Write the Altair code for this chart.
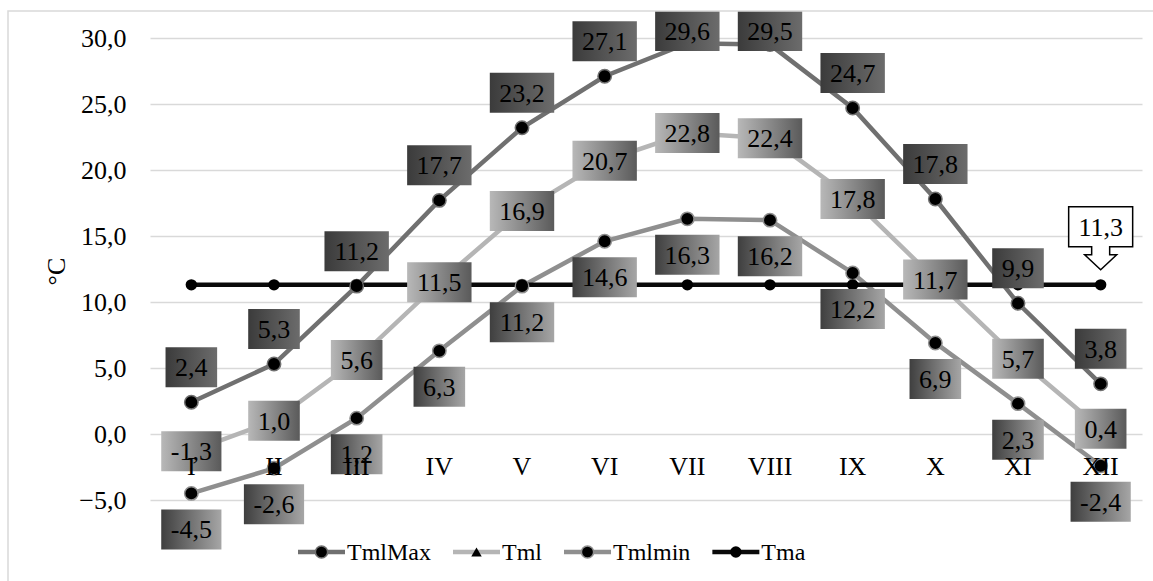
import altair as alt
import pandas as pd

# ---- data -------------------------------------------------------------
months = ["I", "II", "III", "IV", "V", "VI", "VII", "VIII", "IX", "X", "XI", "XII"]
series_names = ["TmlMax", "Tml", "Tmlmin", "Tma"]
tml_max = [2.4, 5.3, 11.2, 17.7, 23.2, 27.1, 29.6, 29.5, 24.7, 17.8, 9.9, 3.8]
tml = [-1.3, 1.0, 5.6, 11.5, 16.9, 20.7, 22.8, 22.4, 17.8, 11.7, 5.7, 0.4]
tml_min = [-4.5, -2.6, 1.2, 6.3, 11.2, 14.6, 16.3, 16.2, 12.2, 6.9, 2.3, -2.4]
tma = [11.3, 11.3, 11.3, 11.3, 11.3, 11.3, 11.3, 11.3, 11.3, 11.3, 11.3, 11.3]
y_ticks = [-5, 0, 5, 10, 15, 20, 25, 30]

# ---- layout -----------------------------------------------------------
TOTAL_W, TOTAL_H = 1153, 581
PL, PT = 150, 38
PW, PH = 992, 462
Y_MIN, Y_MAX = -5, 30
PX_PER_UNIT = PH / (Y_MAX - Y_MIN)
FONT = "Liberation Serif"
LABEL_SIZE = 26
BOX_H = 40

line_colors = ["#707070", "#b5b5b5", "#8f8f8f", "#0a0a0a"]
color_scale = alt.Scale(domain=series_names, range=line_colors)

# Times-like advance widths (em) used to size the label boxes
CHAR_W = {",": 0.25, "-": 0.333, "T": 0.611, "m": 0.778, "l": 0.278,
          "M": 0.889, "a": 0.444, "x": 0.5, "i": 0.278, "n": 0.5}


def text_width(s, size):
    return sum(CHAR_W.get(c, 0.5) for c in s) * size


def fmt(v):
    return f"{v:.1f}".replace(".", ",")


def box_path(label):
    half = (text_width(label, LABEL_SIZE) + 19) / 2
    return f"M{-half:.1f},{-BOX_H / 2}H{half:.1f}V{BOX_H / 2}H{-half:.1f}Z"


values_by_series = dict(zip(series_names, [tml_max, tml, tml_min, tma]))
rows = []
for s in series_names:
    for m, v in zip(months, values_by_series[s]):
        rows.append({"month": m, "series": s, "value": v})
df = pd.DataFrame(rows)

# label anchor (data units): above, centred on, or below the point
top_limit = Y_MAX + 7 / PX_PER_UNIT
lab = df[df["series"] != "Tma"].copy()
lab["text"] = lab["value"].map(fmt)
lab["box"] = lab["text"].map(box_path)


def anchor(r):
    if r["series"] == "TmlMax":
        return min(r["value"] + 35 / PX_PER_UNIT, top_limit)
    if r["series"] == "Tmlmin":
        return r["value"] - 36 / PX_PER_UNIT
    return r["value"]


lab["ly"] = lab.apply(anchor, axis=1)

callout = df[(df["series"] == "Tma") & (df["month"] == months[-1])].copy()
callout["text"] = callout["value"].map(fmt)

X = alt.X("month:N", sort=months, scale=alt.Scale(type="point", padding=0.5), axis=None)
Y_SCALE = alt.Scale(domain=[Y_MIN, Y_MAX], nice=False, zero=False)
Y_AXIS = alt.Axis(
    values=y_ticks,
    labelExpr="replace(format(datum.value, '.1f'), '.', ',')",
    labelFont=FONT, labelFontSize=26, labelColor="#000000", labelPadding=24,
    ticks=False, domain=False, grid=True, gridColor="#d9d9d9", gridWidth=1.5,
    title="°C", titleFont=FONT, titleFontSize=26, titleFontWeight="normal",
    titleColor="#000000", titleAngle=270, titleAlign="center", titleBaseline="middle",
    titleX=-94, titleY=233,
)


def y_enc(field):
    return alt.Y(field, scale=Y_SCALE, axis=Y_AXIS)


base = alt.Chart(df)

lines = base.mark_line(strokeWidth=4.5).encode(
    x=X, y=y_enc("value:Q"),
    color=alt.Color("series:N", scale=color_scale, legend=None),
    detail="series:N",
)

ring_points = base.transform_filter(
    alt.FieldOneOfPredicate(field="series", oneOf=["TmlMax", "Tmlmin"])
).mark_point(filled=True, fill="#000000", strokeWidth=1.5, size=180, opacity=1).encode(
    x=X, y=y_enc("value:Q"),
    stroke=alt.Stroke("series:N", scale=color_scale, legend=None),
)

tri_points = base.transform_filter(alt.datum.series == "Tml").mark_point(
    filled=True, shape="triangle-up", color="#000000", size=100, opacity=1
).encode(x=X, y=y_enc("value:Q"))

tma_points = base.transform_filter(alt.datum.series == "Tma").mark_point(
    filled=True, color="#000000", size=130, opacity=1
).encode(x=X, y=y_enc("value:Q"))


def gradient(c0, c1):
    return alt.LinearGradient(
        gradient="linear",
        stops=[alt.GradientStop(color=c0, offset=0), alt.GradientStop(color=c1, offset=1)],
        x1=0, x2=1, y1=0, y2=0,
    )


box_fills = {
    "TmlMax": gradient("#3b3b3b", "#6c6c6c"),
    "Tml": gradient("#b8b8b8", "#5a5a5a"),
    "Tmlmin": gradient("#3f3f3f", "#a6a6a6"),
}

label_layers = []
for s in ["TmlMax", "Tml", "Tmlmin"]:
    sub = alt.Chart(lab).transform_filter(alt.datum.series == s)
    label_layers.append(
        sub.mark_point(filled=True, fill=box_fills[s], strokeWidth=0, size=4, opacity=1).encode(
            x=X, y=y_enc("ly:Q"), shape=alt.Shape("box:N", scale=None, legend=None)
        )
    )
    label_layers.append(
        sub.mark_text(font=FONT, fontSize=LABEL_SIZE, color="#000000", baseline="middle", dy=1).encode(
            x=X, y=y_enc("ly:Q"), text="text:N"
        )
    )

# callout pointing down at the last Tma point
callout_shape = "M-32,-78H32V-38H9V-30H16L0,-15L-16,-30H-9V-38H-32Z"
callout_box = alt.Chart(callout).mark_point(
    shape=callout_shape, size=4, filled=True, fill="#ffffff", stroke="#000000",
    strokeWidth=1.5, opacity=1
).encode(x=X, y=y_enc("value:Q"))
callout_text = alt.Chart(callout).mark_text(
    font=FONT, fontSize=LABEL_SIZE, color="#000000", baseline="middle", dy=-57
).encode(x=X, y=y_enc("value:Q"), text="text:N")

# category labels along the zero line
month_df = pd.DataFrame({"month": months})
month_labels = alt.Chart(month_df).mark_text(
    font=FONT, fontSize=26, color="#000000", baseline="alphabetic", dy=41
).encode(x=X, y=alt.datum(0), text="month:N")

main = alt.layer(
    lines, ring_points, tri_points, tma_points, *label_layers, callout_box, callout_text, month_labels
)

# ---- legend row -------------------------------------------------------
LEG_FONT = 24
SYM_W, TXT_GAP, ITEM_GAP = 47, 2, 22
leg_rows = []
cursor = 298 - PL
for s in series_names:
    leg_rows.append({"series": s, "sx0": cursor, "sx1": cursor + SYM_W,
                     "sm": cursor + SYM_W / 2, "tx": cursor + SYM_W + TXT_GAP})
    cursor += SYM_W + TXT_GAP + text_width(s, LEG_FONT) + ITEM_GAP
leg = pd.DataFrame(leg_rows)
LEG_Y = 552 - PT

leg_base = alt.Chart(leg)
leg_lines = leg_base.mark_rule(strokeWidth=4.5).encode(
    x=alt.X("sx0:Q", scale=None, axis=None), x2="sx1:Q", y=alt.value(LEG_Y),
    color=alt.Color("series:N", scale=color_scale, legend=None),
)
leg_rings = leg_base.transform_filter(
    alt.FieldOneOfPredicate(field="series", oneOf=["TmlMax", "Tmlmin"])
).mark_point(filled=True, fill="#000000", strokeWidth=1.5, size=150, opacity=1).encode(
    x=alt.X("sm:Q", scale=None, axis=None), y=alt.value(LEG_Y),
    stroke=alt.Stroke("series:N", scale=color_scale, legend=None),
)
leg_tri = leg_base.transform_filter(alt.datum.series == "Tml").mark_point(
    filled=True, shape="triangle-up", color="#000000", size=110, opacity=1
).encode(x=alt.X("sm:Q", scale=None, axis=None), y=alt.value(LEG_Y))
leg_dot = leg_base.transform_filter(alt.datum.series == "Tma").mark_point(
    filled=True, color="#000000", size=130, opacity=1
).encode(x=alt.X("sm:Q", scale=None, axis=None), y=alt.value(LEG_Y))
leg_text = leg_base.mark_text(
    font=FONT, fontSize=LEG_FONT, color="#000000", align="left", baseline="middle", dy=1
).encode(x=alt.X("tx:Q", scale=None, axis=None), y=alt.value(LEG_Y), text="series:N")

# outer chart frame
frame = alt.Chart(pd.DataFrame({"k": [0]})).mark_rect(
    filled=False, stroke="#d9d9d9", strokeWidth=1.5
).encode(
    x=alt.value(8 - PL), y=alt.value(11 - PT),
    x2=alt.value(TOTAL_W - PL + 10), y2=alt.value(TOTAL_H - PT + 10),
)

legend_layer = alt.layer(frame, leg_lines, leg_rings, leg_tri, leg_dot, leg_text)

chart = alt.layer(main, legend_layer).resolve_scale(
    x="independent", y="independent"
).properties(
    width=PW, height=PH,
    autosize=alt.AutoSizeParams(type="none"),
    padding={"left": PL, "top": PT, "right": TOTAL_W - PL - PW, "bottom": TOTAL_H - PT - PH},
    background="#ffffff",
).configure_view(strokeOpacity=0)

chart.save("out.html", embed_options={"renderer": "svg", "actions": False})
